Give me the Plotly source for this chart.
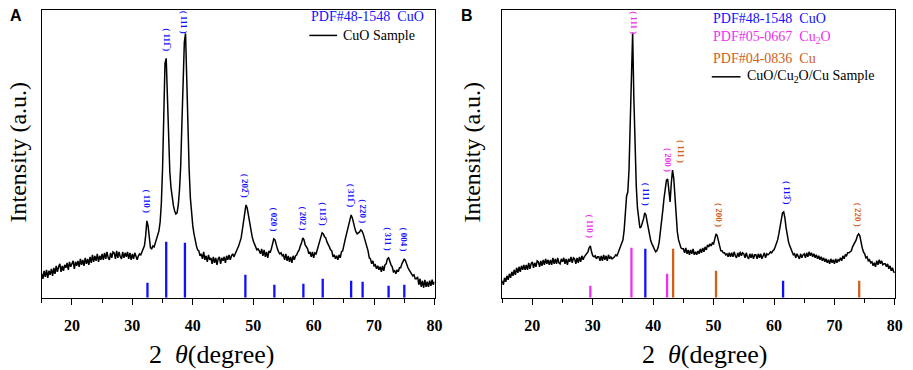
import numpy as np
import plotly.graph_objects as go

# ---------------- data ----------------
# sampling grid of the diffractograms, 2theta in degrees
two_theta = np.round(np.arange(15.0, 80.0001, 0.2), 1)

# Panel A: CuO sample intensity (a.u.)
cuo_sample = [
    24, 19, 27, 21, 28, 20, 27, 23, 29, 22,
    30, 24, 32, 26, 31, 34, 26, 32, 27, 33,
    30, 35, 28, 36, 31, 34, 37, 29, 36, 32,
    37, 31, 39, 33, 38, 32, 40, 34, 39, 33,
    41, 35, 43, 36, 42, 37, 44, 36, 42, 38,
    44, 38, 45, 39, 46, 40, 38, 45, 40, 46,
    45, 39, 47, 40, 46, 41, 39, 46, 40, 45,
    41, 46, 39, 45, 38, 44, 39, 45, 40, 38,
    42, 44, 43, 46, 48, 52, 62, 77, 72, 60,
    50, 49, 52, 51, 55, 57, 61, 67, 76, 95,
    130, 185, 235, 240, 200, 152, 126, 110, 100, 92,
    87, 84, 85, 93, 108, 132, 175, 222, 256, 265,
    215, 165, 128, 100, 84, 72, 64, 57, 52, 48,
    47, 42, 44, 39, 46, 38, 42, 36, 43, 38,
    40, 34, 41, 35, 40, 33, 39, 41, 34, 40,
    37, 41, 35, 42, 38, 43, 38, 42, 44, 41,
    44, 45, 48, 52, 56, 60, 68, 78, 88, 93,
    90, 82, 75, 68, 62, 57, 53, 51, 48, 49,
    47, 44, 49, 42, 48, 41, 46, 40, 47, 45,
    49, 53, 59, 58, 52, 49, 46, 44, 45, 42,
    43, 38, 44, 37, 42, 36, 41, 35, 42, 38,
    42, 43, 46, 48, 52, 55, 60, 58, 53, 50,
    49, 44, 46, 41, 46, 40, 45, 44, 49, 51,
    57, 61, 65, 64, 61, 60, 56, 54, 51, 48,
    47, 41, 43, 39, 42, 38, 43, 40, 46, 47,
    54, 58, 63, 68, 75, 80, 83, 80, 74, 70,
    66, 64, 65, 66, 68, 67, 64, 60, 55, 50,
    47, 40, 39, 34, 37, 32, 33, 29, 32, 28,
    31, 26, 32, 27, 33, 34, 39, 40, 36, 33,
    31, 26, 27, 24, 28, 26, 30, 30, 34, 37,
    39, 37, 33, 30, 28, 26, 25, 22, 23, 19,
    19, 21, 13, 19, 11, 17, 10, 18, 11, 16,
    11, 17, 12, 18, 13, 16,
]

# Panel B: CuO/Cu2O/Cu sample intensity (a.u.)
mix_sample = [
    17, 13, 20, 16, 22, 18, 24, 20, 26, 22,
    28, 23, 30, 25, 31, 26, 32, 28, 33, 28,
    33, 28, 35, 29, 34, 36, 30, 35, 31, 37,
    36, 31, 37, 32, 38, 33, 39, 34, 38, 33,
    38, 33, 40, 34, 39, 34, 40, 35, 34, 39,
    36, 40, 34, 39, 33, 39, 36, 41, 35, 40,
    39, 34, 40, 35, 41, 36, 42, 38, 41, 43,
    44, 46, 50, 52, 46, 42, 41, 42, 39, 41,
    41, 37, 42, 37, 43, 38, 42, 37, 43, 39,
    41, 39, 40, 41, 43, 42, 45, 48, 51, 54,
    58, 68, 88, 102, 106, 128, 175, 225, 266, 200,
    150, 112, 90, 76, 70, 71, 74, 79, 85, 83,
    76, 70, 62, 57, 54, 51, 48, 46, 47, 50,
    56, 65, 77, 88, 100, 110, 118, 119, 104, 96,
    115, 128, 120, 98, 78, 66, 58, 54, 50, 49,
    49, 45, 50, 44, 48, 43, 48, 44, 49, 43,
    46, 43, 47, 44, 49, 45, 50, 46, 51, 48,
    53, 51, 54, 52, 55, 54, 58, 64, 62, 55,
    52, 47, 47, 45, 45, 43, 44, 41, 45, 41,
    45, 41, 46, 42, 40, 45, 41, 46, 42, 45,
    44, 40, 45, 41, 39, 44, 40, 44, 39, 43,
    43, 39, 44, 40, 44, 39, 43, 45, 40, 44,
    43, 44, 46, 45, 47, 48, 51, 54, 58, 64,
    70, 78, 85, 86, 80, 70, 62, 56, 52, 49,
    47, 43, 44, 40, 44, 41, 39, 44, 40, 43,
    44, 40, 45, 41, 46, 42, 45, 41, 44, 40,
    43, 39, 42, 38, 41, 37, 40, 36, 39, 35,
    38, 34, 39, 35, 38, 34, 39, 35, 38, 37,
    40, 37, 42, 39, 43, 42, 45, 45, 46, 47,
    51, 53, 56, 58, 62, 64, 62, 55, 50, 46,
    44, 40, 41, 37, 38, 35, 36, 32, 35, 31,
    37, 33, 38, 34, 37, 33, 34, 34, 31, 34,
    29, 32, 27, 30, 26, 25,
]
assert len(cuo_sample) == len(two_theta) == len(mix_sample)

# reference cards: positions (2theta), relative heights, Miller indices
cuo_ref_pos = [32.5, 35.6, 38.7, 48.7, 53.5, 58.3, 61.5, 66.2, 68.1, 72.4, 75.0]
cuo_ref_int = [15, 56, 55, 23, 13, 14, 19, 17, 16, 12, 13]
cuo_ref_hkl = ["110", "111\u0305", "111", "202\u0305", "020", "202",
               "113\u0305", "311\u0305", "220", "311", "004"]

b_cuo_pos = [38.7, 61.5]
b_cuo_int = [49, 17]
b_cuo_hkl = ["111", "113\u0305"]

b_cu2o_pos = [29.6, 36.4, 42.3]
b_cu2o_int = [12, 50, 24]
b_cu2o_hkl = ["110", "111", "200"]

b_cu_pos = [43.3, 50.4, 74.1]
b_cu_int = [49, 27, 17]
b_cu_hkl = ["111", "200", "220"]

# ---------------- styling ----------------
W, H = 913, 370
OFF = 8  # page body margin in which the figure sits
BLUE, MAGENTA, ORANGE = "#1010ff", "#f030f0", "#d0601a"
SERIF = "Liberation Serif"
SANS = "Liberation Sans"


def px(x):
    return max(0.0, (x - OFF) / W)


def py(y):
    return min(1.0, 1 - (y - OFF) / H)


fig = go.Figure()
x_arr = np.array(two_theta)

ydom = [py(297.5), py(8.6)]
# the top of the frame cannot go above the page margin; keep the pixel scale of the reference
y_top = 297.5 - 8.6


def sticks(pos, hts, color, xa, ya):
    xs, ys = [], []
    for p, h in zip(pos, hts):
        xs += [p, p, None]
        ys += [0, h, None]
    fig.add_trace(go.Scatter(x=xs, y=ys, mode="lines", xaxis=xa, yaxis=ya,
                             line=dict(color=color, width=2.3),
                             hoverinfo="skip", showlegend=False))


fig.add_trace(go.Scatter(x=two_theta, y=cuo_sample, mode="lines", xaxis="x", yaxis="y",
                         line=dict(color="black", width=1.5), showlegend=False))
fig.add_trace(go.Scatter(x=two_theta, y=mix_sample, mode="lines", xaxis="x2", yaxis="y2",
                         line=dict(color="black", width=1.5), showlegend=False))

sticks(cuo_ref_pos, cuo_ref_int, BLUE, "x", "y")
sticks(b_cu2o_pos, b_cu2o_int, MAGENTA, "x2", "y2")
sticks(b_cuo_pos, b_cuo_int, BLUE, "x2", "y2")
sticks(b_cu_pos, b_cu_int, ORANGE, "x2", "y2")

annotations = []


def peak_labels(pos, hkls, curve, color, xr, yr, shifts=None):
    curve = np.array(curve)
    for i, (p, h) in enumerate(zip(pos, hkls)):
        m = curve[(x_arr >= p - 0.35) & (x_arr <= p + 0.35)].max()
        yc = min(m + 19, y_top - 13)
        annotations.append(dict(
            x=p, y=yc, xref=xr, yref=yr, text="( " + h + " )", showarrow=False,
            textangle=90, xanchor="center", yanchor="middle",
            xshift=(shifts[i] if shifts else 0),
            font=dict(family=SERIF, size=9, color=color, weight="bold")))


peak_labels(cuo_ref_pos, cuo_ref_hkl, cuo_sample, BLUE, "x", "y")
peak_labels(b_cu2o_pos, b_cu2o_hkl, mix_sample, MAGENTA, "x2", "y2", [0, 3, 1])
peak_labels(b_cuo_pos, b_cuo_hkl, mix_sample, BLUE, "x2", "y2", [1, 4])
peak_labels(b_cu_pos, b_cu_hkl, mix_sample, ORANGE, "x2", "y2", [8, 3, -1])


def txt(x, y, s, size, color="black", family=SERIF, xanchor="left", angle=0, weight="normal"):
    annotations.append(dict(x=px(x), y=py(y), xref="paper", yref="paper", text=s,
                            showarrow=False, xanchor=xanchor, yanchor="middle",
                            textangle=angle,
                            font=dict(family=family, size=size, color=color, weight=weight)))


# panel letters
txt(8, 15, "A", 16, family=SANS, xanchor="left", weight="bold")
txt(471, 15, "B", 16, family=SANS, xanchor="center", weight="bold")

# axis titles
for xc in (213, 711):
    txt(xc, 354, "2\u00a0\u00a0<i>\u03b8</i>(degree)", 26, xanchor="center")
for xc in (18, 476):
    txt(xc, 151, "Intensity (a.u.)", 24, xanchor="center", angle=-90)

# legends
txt(312, 16, "PDF#48-1548\u00a0\u00a0CuO", 14, BLUE)
txt(344, 34.5, "CuO Sample", 14)
txt(717, 18, "PDF#48-1548\u00a0\u00a0CuO", 14, BLUE)
txt(717, 37, "PDF#05-0667\u00a0\u00a0Cu<sub>2</sub>O", 14, MAGENTA)
txt(717, 57.5, "PDF#04-0836\u00a0\u00a0Cu", 14, ORANGE)
txt(752, 76, "CuO/Cu<sub>2</sub>O/Cu Sample", 14)

shapes = [
    dict(type="line", xref="paper", yref="paper", x0=px(312), x1=px(340),
         y0=py(34.5), y1=py(34.5), line=dict(color="black", width=1.5)),
    dict(type="line", xref="paper", yref="paper", x0=px(718), x1=px(747),
         y0=py(76), y1=py(76), line=dict(color="black", width=1.5)),
]

xdom_a = [px(42), px(438.3)]
xdom_b = [px(506.5), px(902.7)]

xaxis_common = dict(range=[15, 80], tick0=0, dtick=10, ticks="outside", ticklen=6,
                    tickwidth=1.2, tickcolor="black", showline=True, mirror=True,
                    linecolor="black", linewidth=1.4, showgrid=False, zeroline=False,
                    ticklabelstandoff=7,
                    tickfont=dict(family=SERIF, size=16, color="black", weight="bold"),
                    minor=dict(dtick=5, tick0=0, ticks="outside", ticklen=4,
                               tickwidth=1.2, tickcolor="black", showgrid=False))
yaxis_common = dict(range=[0, y_top], showticklabels=False, ticks="", showline=True,
                    mirror=True, linecolor="black", linewidth=1.4, showgrid=False,
                    zeroline=False, domain=ydom)

fig.update_layout(
    width=W, height=H, autosize=False,
    margin=dict(l=0, r=0, t=0, b=0),
    paper_bgcolor="white", plot_bgcolor="white",
    xaxis=dict(domain=xdom_a, anchor="y", **xaxis_common),
    yaxis=dict(anchor="x", **yaxis_common),
    xaxis2=dict(domain=xdom_b, anchor="y2", **xaxis_common),
    yaxis2=dict(anchor="x2", **yaxis_common),
    annotations=annotations, shapes=shapes,
    showlegend=False,
)

fig.write_html("out.html")
